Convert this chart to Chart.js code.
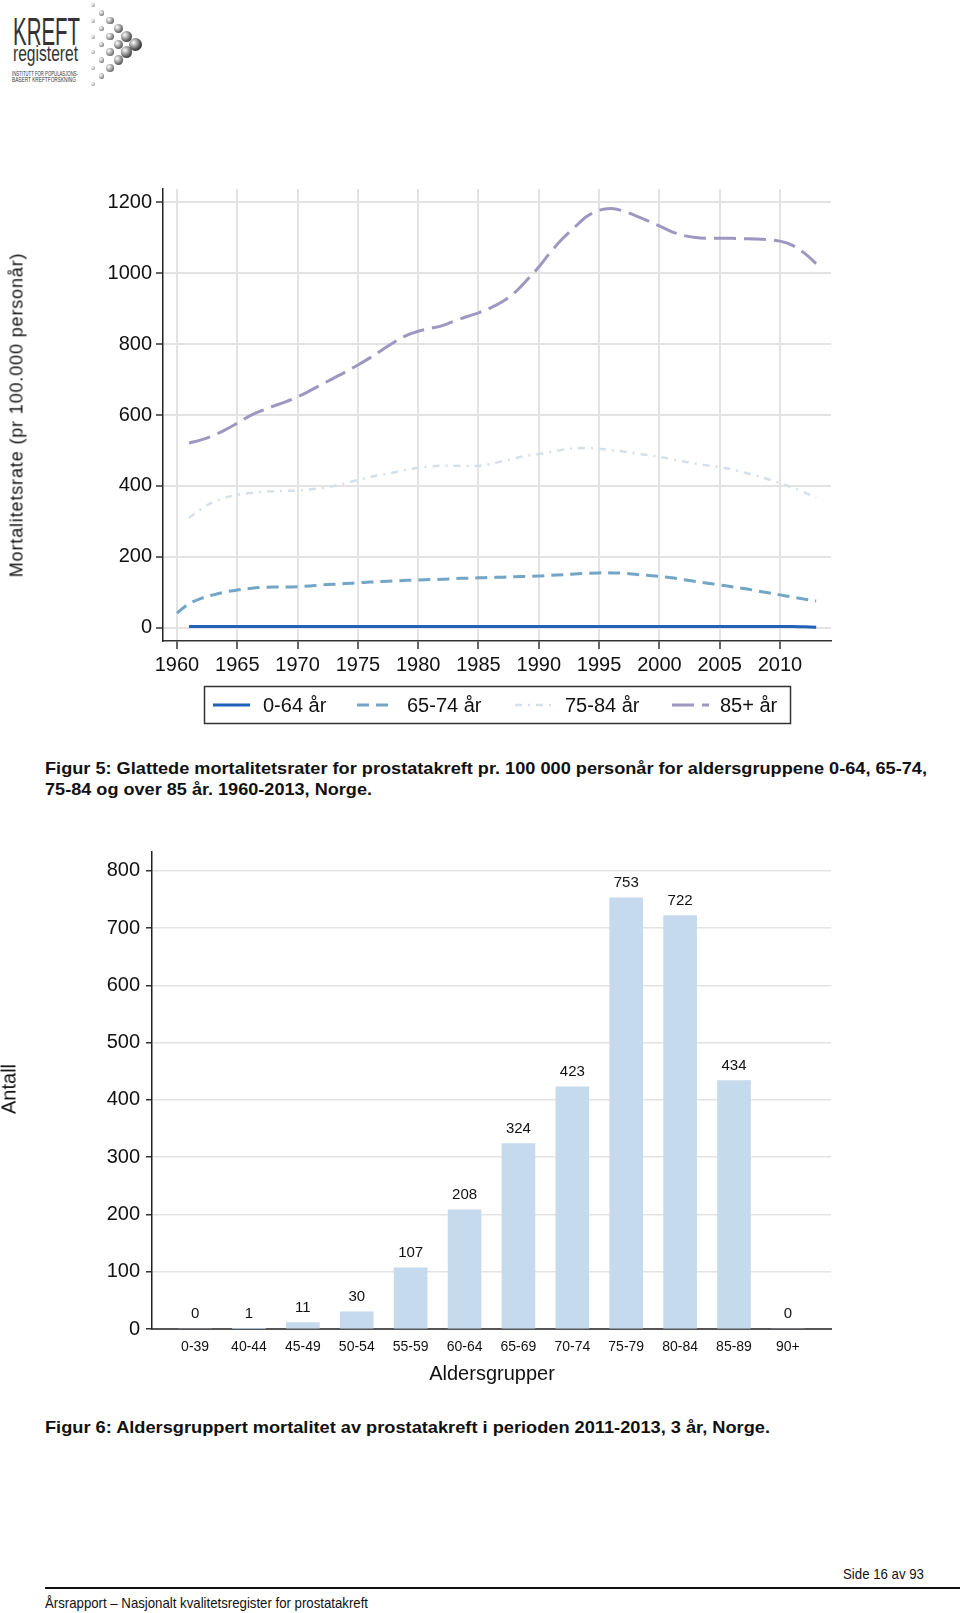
<!DOCTYPE html>
<html>
<head>
<meta charset="utf-8">
<title>Prostatakreft - mortalitet</title>
<script src="https://cdn.jsdelivr.net/npm/chart.js@4.4.1/dist/chart.umd.min.js"></script>
<style>
  html, body { margin: 0; padding: 0; background: #fff; }
  body { width: 960px; height: 1613px; position: relative; overflow: hidden;
         font-family: "Liberation Sans", Arial, sans-serif; color: #111; }
  .abs { position: absolute; white-space: nowrap; }
  .fit { transform-origin: 0 50%; }
  .cap { font-weight: bold; font-size: 17px; line-height: 20px; }
  .foot { font-size: 15px; line-height: 18px; }
  .rot { transform: translate(-50%, -50%) rotate(-90deg); }
  .ctr { transform: translate(-50%, -50%); }
  canvas { position: absolute; left: 0; }
  .ball { position: absolute; border-radius: 50%; }
</style>
</head>
<body>

<!-- logo -->
<div id="logo">
  <div class="abs fit" data-w="67" style="left:13px;top:12px;font-size:39px;line-height:39px;color:#333;">KREFT</div>
  <div class="abs fit" data-w="65" style="left:13px;top:43px;font-size:22px;line-height:22px;color:#333;">registeret</div>
  <div class="abs fit" data-w="66" style="left:12px;top:70px;font-size:7px;line-height:8px;color:#333;">INSTITUTT FOR POPULASJONS-</div>
  <div class="abs fit" data-w="64" style="left:12px;top:76px;font-size:7px;line-height:8px;color:#333;">BASERT KREFTFORSKNING</div>
</div>

<!-- figur 5 -->
<canvas id="rateChart" width="960" height="590" style="top:150px"></canvas>
<div class="abs rot" style="left:17px;top:415px;font-size:18px;letter-spacing:0.85px;">Mortalitetsrate (pr 100.000 personår)</div>
<div class="abs cap fit" data-w="882" style="left:45px;top:759px;">Figur 5: Glattede mortalitetsrater for prostatakreft pr. 100 000 personår for aldersgruppene 0-64, 65-74,</div>
<div class="abs cap fit" data-w="327" style="left:45px;top:780px;">75-84 og over 85 år. 1960-2013, Norge.</div>

<!-- figur 6 -->
<canvas id="ageChart" width="960" height="580" style="top:820px"></canvas>
<div class="abs rot" style="left:9px;top:1089px;font-size:20px;">Antall</div>
<div class="abs ctr" style="left:492px;top:1373px;font-size:20px;">Aldersgrupper</div>
<div class="abs cap fit" data-w="725" style="left:45px;top:1418px;">Figur 6: Aldersgruppert mortalitet av prostatakreft i perioden 2011-2013, 3 år, Norge.</div>

<!-- footer -->
<div class="abs foot fit" data-w="81" style="left:843px;top:1565px;">Side 16 av 93</div>
<div class="abs" style="left:45px;top:1587px;width:915px;height:2px;background:#111;"></div>
<div class="abs foot fit" data-w="323" style="left:45px;top:1594px;">Årsrapport – Nasjonalt kvalitetsregister for prostatakreft</div>

<script>
// Figur 5: glattede rater pr 100 000 personår
var xTickYears = [1960, 1965, 1970, 1975, 1980, 1985, 1990, 1995, 2000, 2005, 2010];
var yTickRates = [0, 200, 400, 600, 800, 1000, 1200];
var seriesLabels = ['0-64 år', '65-74 år', '75-84 år', '85+ år'];
var firstYears = [1961, 1960, 1961, 1961];

var rate0to64 = [
  4, 4, 4, 4, 4, 4, 4, 4, 4,
  4, 4, 4, 4, 4, 4, 4, 4, 4, 4,
  4, 4, 4, 4, 4, 4, 4, 4, 4, 4,
  4, 4, 4, 4, 4, 4, 4, 4, 4, 4,
  4, 4, 4, 4, 4, 4, 4, 4, 4, 4,
  4, 4, 3, 2
];
var rate65to74 = [
  42, 68, 83, 93, 101, 107, 111, 114, 115, 115,
  116, 118, 121, 123, 125, 127, 129, 131, 132, 134,
  135, 136, 137, 139, 140, 141, 142, 143, 144, 145,
  146, 148, 150, 152, 154, 155, 155, 154, 151, 148,
  145, 141, 136, 131, 126, 121, 116, 111, 105, 99,
  93, 87, 81, 76
];
var rate75to84 = [
  310, 335, 355, 367, 375, 380, 383, 385, 386,
  387, 390, 394, 400, 408, 417, 425, 432, 438, 446,
  451, 455, 457, 457, 456, 457, 462, 470, 478, 485,
  490, 496, 502, 506, 507, 505, 501, 497, 492, 487,
  482, 476, 469, 463, 458, 453, 447, 438, 429, 419,
  408, 396, 382, 367
];
var rate85plus = [
  521, 530, 542, 558, 577, 597, 612, 625, 637,
  651, 668, 686, 704, 722, 741, 761, 783, 805, 824,
  836, 844, 852, 865, 877, 888, 902, 920, 945, 980,
  1017, 1060, 1098, 1130, 1160, 1177, 1182, 1175, 1162, 1148,
  1133, 1117, 1106, 1100, 1098, 1098, 1098, 1097, 1096, 1094,
  1090, 1079, 1057, 1027
];

// Figur 6: antall døde per aldersgruppe
var ageGroups = ['0-39', '40-44', '45-49', '50-54', '55-59', '60-64', '65-69', '70-74', '75-79', '80-84', '85-89', '90+'];
var deaths = [0, 1, 11, 30, 107, 208, 324, 423, 753, 722, 434, 0];
var yTickCounts = [0, 100, 200, 300, 400, 500, 600, 700, 800];

var FONT = '"Liberation Sans", Arial, sans-serif';
Chart.defaults.font.family = FONT;
Chart.defaults.color = '#111';

function toPoints(start, values) {
  return values.map(function (v, i) { return { x: start + i, y: v }; });
}
function fixedTicks(list) {
  return function (scale) {
    scale.ticks = list.map(function (v) { return { value: v }; });
  };
}

var lineStyles = [
  { color: '#1f62b6', dash: [], width: 3 },
  { color: '#72a5c6', dash: [12, 7], width: 3 },
  { color: '#d5e0ea', dash: [7, 6, 2, 6], width: 2.5 },
  { color: '#9c98c2', dash: [22, 8], width: 3 }
];
var seriesValues = [rate0to64, rate65to74, rate75to84, rate85plus];

var legendSampleX = [213, 357, 515, 672];
var legendTextX = [263, 407, 565, 720];

var boxLegend = {
  id: 'boxLegend',
  afterDraw: function (chart) {
    var ctx = chart.ctx;
    ctx.save();
    ctx.strokeStyle = '#333';
    ctx.lineWidth = 1.5;
    ctx.setLineDash([]);
    ctx.strokeRect(204.5, 536.5, 586, 37);
    ctx.font = '20px ' + FONT;
    ctx.textBaseline = 'middle';
    chart.data.datasets.forEach(function (ds, i) {
      var x = legendSampleX[i];
      ctx.beginPath();
      ctx.setLineDash(ds.borderDash || []);
      ctx.strokeStyle = ds.borderColor;
      ctx.lineWidth = ds.borderWidth;
      ctx.moveTo(x, 555);
      ctx.lineTo(x + 37, 555);
      ctx.stroke();
      ctx.setLineDash([]);
      ctx.fillStyle = '#111';
      ctx.fillText(ds.label, legendTextX[i], 556);
    });
    ctx.restore();
  }
};

new Chart(document.getElementById('rateChart'), {
  type: 'line',
  data: {
    datasets: seriesLabels.map(function (label, i) {
      return {
        label: label,
        data: toPoints(firstYears[i], seriesValues[i]),
        borderColor: lineStyles[i].color,
        borderDash: lineStyles[i].dash,
        borderWidth: lineStyles[i].width,
        pointRadius: 0,
        tension: 0.35,
        fill: false
      };
    })
  },
  options: {
    responsive: false,
    animation: false,
    devicePixelRatio: 1,
    layout: { padding: { top: 39, right: 129, left: 0, bottom: 0 } },
    plugins: { legend: { display: false }, tooltip: { enabled: false } },
    scales: {
      x: {
        type: 'linear',
        min: 1958.84,
        max: 2014.23,
        afterBuildTicks: fixedTicks(xTickYears),
        afterFit: function (s) { s.height = 99; },
        ticks: { font: { size: 20 }, padding: 4, maxRotation: 0, autoSkip: false,
                 callback: function (v) { return String(v); } },
        grid: { color: '#e3e3e3', lineWidth: 2, tickColor: '#333', tickLength: 8, tickWidth: 1.5 },
        border: { color: '#333', width: 1.5 }
      },
      y: {
        min: -37,
        max: 1237,
        afterBuildTicks: fixedTicks(yTickRates),
        afterFit: function (s) { s.width = 163; },
        ticks: { font: { size: 20 }, padding: 4, callback: function (v) { return String(v); } },
        grid: { color: '#e3e3e3', lineWidth: 2, tickColor: '#333', tickLength: 7, tickWidth: 1.5 },
        border: { color: '#222', width: 1.5 }
      }
    }
  },
  plugins: [boxLegend]
});

var valueLabels = {
  id: 'valueLabels',
  afterDatasetsDraw: function (chart) {
    var ctx = chart.ctx, meta = chart.getDatasetMeta(0);
    ctx.save();
    ctx.font = '15px ' + FONT;
    ctx.textAlign = 'center';
    ctx.textBaseline = 'middle';
    ctx.fillStyle = '#111';
    meta.data.forEach(function (bar, i) {
      ctx.fillText(String(deaths[i]), bar.x, bar.y - 15);
    });
    ctx.restore();
  }
};

new Chart(document.getElementById('ageChart'), {
  type: 'bar',
  data: {
    datasets: [{
      label: 'Antall',
      data: deaths.map(function (v, i) { return { x: i, y: v }; }),
      backgroundColor: '#c6daee',
      borderWidth: 0,
      barThickness: 33
    }]
  },
  options: {
    responsive: false,
    animation: false,
    devicePixelRatio: 1,
    layout: { padding: { top: 32, right: 129, left: 0, bottom: 0 } },
    plugins: { legend: { display: false }, tooltip: { enabled: false } },
    scales: {
      x: {
        type: 'linear',
        offset: false,
        min: -0.8,
        max: 11.8,
        afterBuildTicks: fixedTicks(ageGroups.map(function (g, i) { return i; })),
        afterFit: function (s) { s.height = 71; },
        ticks: { font: { size: 14 }, padding: 2, maxRotation: 0, autoSkip: false,
                 callback: function (v) { return ageGroups[v]; } },
        grid: { display: false, offset: false },
        border: { color: '#555', width: 2 }
      },
      y: {
        min: 0,
        max: 833,
        afterBuildTicks: fixedTicks(yTickCounts),
        afterFit: function (s) { s.width = 152; },
        ticks: { font: { size: 20 }, padding: 6, callback: function (v) { return String(v); } },
        grid: { color: '#e3e3e3', lineWidth: 1.5, tickColor: '#333', tickLength: 6, tickWidth: 1.5 },
        border: { color: '#222', width: 1.5 }
      }
    }
  },
  plugins: [valueLabels]
});

// logo balls, a small triangle pointing right
(function () {
  var logo = document.getElementById('logo');
  for (var c = 0; c < 6; c++) {
    var n = 6 - c;
    var x = 93 + c * 8.4;
    var top = 5 + c * 7.8, bottom = 84 - c * 8;
    var d = 4 + c * 1.8;
    var shade = 175 - c * 20;
    var dark = shade - 70;
    for (var k = 0; k < n; k++) {
      var y = n === 1 ? (top + bottom) / 2 : top + (bottom - top) * k / (n - 1);
      var b = document.createElement('div');
      b.className = 'ball';
      b.style.left = (x - d / 2) + 'px';
      b.style.top = (y - d / 2) + 'px';
      b.style.width = d + 'px';
      b.style.height = d + 'px';
      b.style.background = 'radial-gradient(circle at 35% 35%, #fff, rgb(' + shade + ',' + shade + ',' + shade + ') 60%, rgb(' + dark + ',' + dark + ',' + dark + '))';
      logo.appendChild(b);
    }
  }
})();

// squeeze texts to the widths in the reference
Array.prototype.forEach.call(document.querySelectorAll('.fit'), function (el) {
  var w = el.getBoundingClientRect().width;
  var target = parseFloat(el.getAttribute('data-w'));
  if (w > 0) el.style.transform = 'scaleX(' + (target / w) + ')';
});
</script>
</body>
</html>
